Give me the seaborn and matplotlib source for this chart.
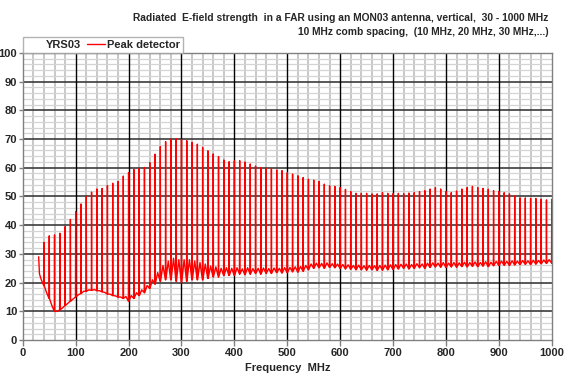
import numpy as np
import pandas as pd
import seaborn as sns
import matplotlib.pyplot as plt
from matplotlib.ticker import MultipleLocator
from matplotlib.lines import Line2D

sns.set_style("white")
plt.rcParams['font.family'] = ['Liberation Sans', 'DejaVu Sans']

# comb harmonics, 10 MHz spacing
freq = np.arange(30, 1001, 10)

# peak level of each harmonic (dBuV/m)
peak = [29.0, 34.0, 36.3, 36.6, 37.2, 39.5, 42.0, 44.7, 47.4, 50.0,
        51.5, 52.6, 52.8, 53.8, 54.6, 55.2, 57.1, 58.3, 59.4, 59.8,
        60.1, 61.8, 64.7, 67.4, 69.1, 70.0, 70.1, 69.9, 69.4, 68.8,
        68.2, 67.1, 65.9, 64.8, 63.9, 62.7, 62.1, 62.4, 62.5, 62.0,
        61.3, 60.6, 60.1, 59.8, 59.7, 59.2, 59.0, 58.3, 57.8, 57.2,
        56.6, 56.0, 55.7, 55.2, 54.3, 53.7, 53.5, 53.1, 52.5, 51.7,
        51.1, 51.1, 51.1, 50.9, 50.9, 51.3, 51.1, 51.0, 51.1, 51.0,
        51.2, 51.3, 51.7, 52.0, 52.6, 53.1, 52.6, 51.7, 51.3, 51.9,
        52.6, 53.1, 53.5, 53.1, 52.8, 52.5, 52.0, 51.7, 51.3, 50.9,
        50.2, 49.5, 49.5, 49.3, 49.3, 49.1, 48.8, 49.0]

# noise floor at the foot of each harmonic
floor_lo = [23.0, 19.0, 14.5, 10.0, 10.5, 12.0, 13.5, 15.0, 16.2, 17.0,
            17.3, 17.2, 16.8, 16.0, 15.5, 15.0, 14.5, 13.5, 14.5, 15.5,
            16.5, 18.0, 19.5, 20.5, 21.0, 21.0, 20.5, 20.0, 20.5, 21.0,
            21.0, 21.0, 21.5, 22.0, 22.0, 22.5, 22.5, 22.5, 23.0, 22.8,
            23.0, 23.2, 23.0, 23.3, 23.2, 23.5, 23.4, 23.5, 23.8, 23.7,
            24.0, 24.5, 25.0, 25.2, 25.0, 25.3, 25.2, 25.0, 24.8, 24.7,
            24.5, 24.5, 24.4, 24.5, 24.3, 24.4, 24.5, 24.6, 24.8, 25.0,
            24.8, 25.0, 25.2, 25.0, 25.3, 25.5, 25.4, 25.3, 25.5, 25.4,
            25.6, 25.5, 25.7, 25.6, 25.8, 25.6, 25.9, 26.0, 26.1, 26.0,
            26.2, 26.3, 26.4, 26.3, 26.5, 26.6, 26.7, 26.8]

# noise floor halfway between harmonics
floor_hi = [21.0, 16.5, 12.0, 10.0, 11.2, 12.8, 14.3, 15.8, 17.0, 17.5,
            17.6, 17.2, 16.6, 16.0, 15.4, 15.0, 15.2, 15.5, 16.5, 17.5,
            19.0, 21.0, 23.5, 26.0, 27.5, 28.5, 28.0, 28.0, 28.0, 27.5,
            27.0, 26.5, 25.8, 25.5, 25.0, 25.2, 25.0, 25.2, 24.8, 25.2,
            24.9, 25.0, 25.1, 24.9, 25.1, 25.0, 25.2, 25.3, 25.5, 25.6,
            26.0, 26.5, 26.8, 26.7, 26.9, 26.6, 26.5, 26.3, 26.2, 26.0,
            26.1, 25.9, 26.0, 25.9, 26.0, 26.1, 26.2, 26.3, 26.4, 26.5,
            26.3, 26.6, 26.5, 26.8, 26.9, 26.8, 27.0, 26.8, 27.0, 26.9,
            27.1, 27.0, 27.2, 27.0, 27.3, 27.1, 27.4, 27.5, 27.4, 27.6,
            27.5, 27.7, 27.6, 27.8, 27.7, 27.9, 28.0]

# build the trace: floor -> spike -> floor -> mid floor ...
xs, ys = [], []
for i, f in enumerate(freq):
    if i == 0:
        xs += [f, f + 1.5]
        ys += [peak[i], floor_lo[i]]
    else:
        xs += [f - 0.4, f, f + 0.4]
        ys += [floor_lo[i], peak[i], floor_lo[i]]
    if i < len(floor_hi):
        xs.append(f + 5)
        ys.append(floor_hi[i])

df = pd.DataFrame({"Frequency": xs, "Level": ys})

fig = plt.figure(figsize=(5.7, 3.8), dpi=100)
ax = fig.add_axes([0.040, 0.105, 0.928, 0.756])

sns.lineplot(data=df, x="Frequency", y="Level", sort=False, estimator=None,
             color="#ff0000", lw=1.0, ax=ax)

ax.set_xlim(0, 1000)
ax.set_ylim(0, 100)
ax.xaxis.set_major_locator(MultipleLocator(100))
ax.xaxis.set_minor_locator(MultipleLocator(20))
ax.yaxis.set_major_locator(MultipleLocator(10))
ax.yaxis.set_minor_locator(MultipleLocator(2))

# fine grid from the axes, heavy grid drawn on top of it
ax.grid(which="minor", axis="x", color="#c4c4c4", lw=1.3)
ax.grid(which="minor", axis="y", color="#d4d4d4", lw=0.9)
ax.set_axisbelow(True)
for v in range(100, 1000, 100):
    ax.axvline(v, color="black", lw=1.0, zorder=0.8)
for v in range(10, 100, 10):
    ax.axhline(v, color="#3c3c3c", lw=1.2, zorder=0.7)

ax.tick_params(which="major", bottom=True, left=True, direction="out",
               length=4, width=1, color="#808080", labelsize=8, pad=2)
ax.tick_params(axis="y", which="major", length=3, pad=1)
ax.tick_params(which="minor", length=0)
for lab in ax.get_xticklabels() + ax.get_yticklabels():
    lab.set_fontweight("bold")

for s in ax.spines.values():
    s.set_color("#808080")
    s.set_linewidth(1)

ax.set_xlabel("Frequency  MHz", fontsize=8, fontweight="bold", labelpad=3)
ax.set_ylabel("")

fig.text(0.962, 0.965,
         "Radiated  E-field strength  in a FAR using an MON03 antenna, vertical,  30 - 1000 MHz\n"
         "10 MHz comb spacing,  (10 MHz, 20 MHz, 30 MHz,...)",
         ha="right", va="top", fontsize=7.4, fontweight="bold", linespacing=1.45)

handles = [Line2D([], [], color="none"), Line2D([], [], color="#ff0000", lw=1)]
leg = ax.legend(handles, ["YRS03", "Peak detector"], ncol=2, loc="lower left",
                bbox_to_anchor=(0, 1), borderaxespad=0, frameon=True,
                fancybox=False, edgecolor="#a0a0a0", handlelength=1.6,
                handletextpad=0.2, columnspacing=0.6, borderpad=0.25,
                prop={"weight": "bold", "size": 8})
leg.get_frame().set_linewidth(1)

fig.savefig("out.png", dpi=100)
